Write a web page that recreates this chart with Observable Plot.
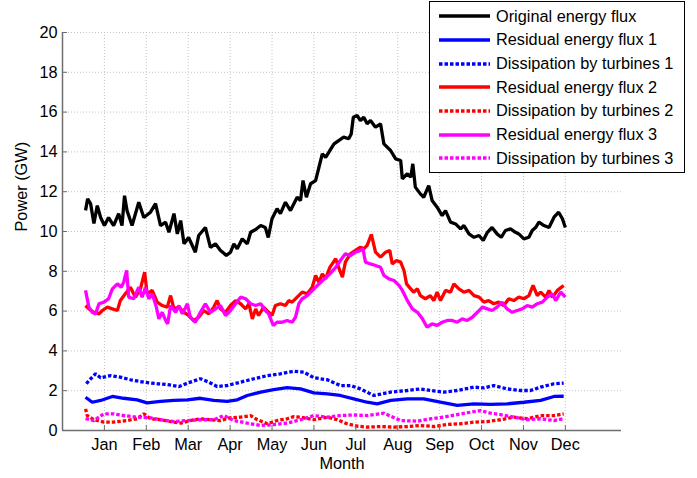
<!DOCTYPE html>
<html><head><meta charset="utf-8">
<script src="https://cdn.jsdelivr.net/npm/d3@7"></script>
<script src="https://cdn.jsdelivr.net/npm/@observablehq/plot@0.6"></script>
<style>
body{margin:0;background:#fff;font-family:"Liberation Sans",Arial,sans-serif;}
#wrap{position:relative;width:697px;height:478px;}
#legend{position:absolute;left:429px;top:1px;width:254px;height:170px;border:1px solid #000;background:#fff;box-sizing:content-box;padding-top:0;}
.row{position:absolute;left:0;height:24px;display:flex;align-items:center;font-size:16.3px;color:#000;white-space:nowrap;}
.row svg{margin-left:9px;margin-right:6px;}
</style>
</head><body>
<div id="wrap"><div id="chart"></div><div id="legend"></div></div>
<script>
const monthLabels = ["Jan","Feb","Mar","Apr","May","Jun","Jul","Aug","Sep","Oct","Nov","Dec"];
const monthPos = [1,2,3,4,5,6,7,8,9,10,11,12];
const yTicks = [0,2,4,6,8,10,12,14,16,18,20];
const seriesNames = ["Original energy flux","Residual energy flux 1","Dissipation by turbines 1","Residual energy flux 2","Dissipation by turbines 2","Residual energy flux 3","Dissipation by turbines 3"];
const seriesColors = ["#000000","#0000ff","#0000ff","#ff0000","#ff0000","#ff00ff","#ff00ff"];
const seriesDotted = [false,false,true,false,true,false,true];

// [month position, GW]
const origFlux = [[0.55,11.06],[0.60,11.64],[0.67,11.4],[0.75,10.4],[0.83,11.3],[0.91,10.7],[1.00,10.3],[1.10,10.7],[1.22,10.3],[1.34,10.9],[1.42,10.3],[1.48,11.8],[1.54,11.05],[1.66,10.3],[1.82,11.47],[1.94,10.7],[2.10,10.97],[2.22,11.4],[2.34,10.3],[2.46,10.47],[2.54,9.96],[2.66,10.9],[2.74,9.88],[2.82,10.55],[2.90,9.38],[3.01,9.7],[3.17,8.96],[3.25,9.8],[3.41,10.2],[3.53,9.2],[3.65,9.38],[3.77,9.05],[3.91,8.8],[4.01,8.96],[4.09,9.38],[4.17,9.13],[4.29,9.63],[4.41,9.38],[4.49,9.96],[4.61,10.1],[4.73,10.3],[4.84,10.2],[4.91,9.7],[5.00,10.64],[5.12,11.14],[5.20,10.9],[5.32,11.47],[5.44,11.05],[5.60,11.72],[5.68,11.56],[5.74,12.56],[5.82,11.72],[5.92,12.4],[6.04,12.56],[6.12,13.23],[6.20,13.9],[6.28,13.73],[6.38,14.07],[6.48,14.4],[6.59,14.57],[6.71,14.74],[6.83,14.66],[6.89,14.9],[6.94,15.74],[7.03,15.83],[7.11,15.58],[7.19,15.74],[7.27,15.41],[7.35,15.58],[7.47,15.24],[7.59,15.41],[7.67,14.4],[7.83,14.07],[7.95,13.65],[8.07,13.57],[8.11,12.65],[8.23,12.9],[8.31,12.73],[8.36,13.4],[8.42,12.23],[8.54,11.89],[8.62,11.72],[8.74,12.31],[8.82,11.56],[8.94,11.22],[9.06,10.8],[9.14,11.05],[9.26,10.47],[9.38,10.38],[9.50,10.13],[9.58,10.3],[9.70,9.88],[9.82,9.71],[9.94,9.8],[10.04,9.55],[10.14,9.96],[10.25,10.2],[10.37,9.88],[10.47,9.71],[10.57,10.05],[10.69,10.13],[10.81,9.96],[10.89,9.88],[11.01,9.63],[11.13,9.71],[11.21,10.05],[11.29,10.2],[11.37,10.47],[11.49,10.3],[11.61,10.2],[11.73,10.72],[11.84,10.97],[11.93,10.64],[12.0,10.2]];
const resid1 = [[0.55,1.67],[0.71,1.42],[0.91,1.51],[1.19,1.71],[1.46,1.62],[1.78,1.54],[2.02,1.39],[2.34,1.46],[2.66,1.51],[2.98,1.54],[3.29,1.62],[3.61,1.51],[3.93,1.46],[4.17,1.54],[4.41,1.76],[4.73,1.93],[5.04,2.05],[5.36,2.15],[5.68,2.09],[6.00,1.89],[6.32,1.84],[6.63,1.76],[6.95,1.59],[7.27,1.42],[7.51,1.34],[7.83,1.51],[8.23,1.59],[8.62,1.59],[9.02,1.42],[9.42,1.26],[9.82,1.34],[10.21,1.31],[10.61,1.34],[11.01,1.42],[11.41,1.51],[11.73,1.71],[11.96,1.72]];
const dissip1 = [[0.57,2.35],[0.63,2.51],[0.79,2.85],[0.91,2.65],[1.15,2.76],[1.38,2.68],[1.62,2.55],[1.94,2.43],[2.26,2.35],[2.50,2.31],[2.78,2.21],[2.98,2.38],[3.29,2.6],[3.49,2.43],[3.69,2.21],[3.93,2.26],[4.25,2.43],[4.57,2.6],[4.89,2.76],[5.20,2.85],[5.52,2.98],[5.76,2.93],[6.00,2.65],[6.32,2.55],[6.63,2.26],[6.87,2.26],[7.11,2.09],[7.43,1.76],[7.83,1.93],[8.23,2.01],[8.54,2.09],[8.78,2.01],[9.10,1.93],[9.42,2.01],[9.82,2.18],[10.06,2.14],[10.29,2.26],[10.61,2.09],[10.93,2.01],[11.17,2.01],[11.41,2.18],[11.73,2.35],[11.96,2.38]];
const resid2 = [[0.55,6.28],[0.63,6.11],[0.75,5.94],[0.87,5.86],[0.95,6.03],[1.07,6.2],[1.19,6.11],[1.31,6.03],[1.38,6.53],[1.50,6.87],[1.62,7.2],[1.74,6.7],[1.86,7.12],[1.96,7.96],[2.02,6.87],[2.14,7.04],[2.26,6.45],[2.38,6.28],[2.50,6.2],[2.58,6.78],[2.66,6.11],[2.78,6.2],[2.90,5.94],[3.01,5.78],[3.13,5.53],[3.25,5.69],[3.37,6.03],[3.49,5.86],[3.61,6.2],[3.69,6.53],[3.77,6.11],[3.89,5.94],[4.01,6.28],[4.13,6.53],[4.25,6.37],[4.37,6.11],[4.45,6.37],[4.53,5.61],[4.61,6.11],[4.68,5.78],[4.80,6.2],[4.92,5.94],[5.00,5.78],[5.08,6.28],[5.20,6.37],[5.32,6.28],[5.40,6.53],[5.48,6.45],[5.60,6.7],[5.72,6.95],[5.84,6.87],[5.96,7.2],[6.04,7.79],[6.12,7.45],[6.20,7.87],[6.28,7.62],[6.38,8.2],[6.52,8.63],[6.59,8.2],[6.68,7.7],[6.75,8.46],[6.87,8.88],[6.99,9.05],[7.11,9.21],[7.19,9.13],[7.27,9.3],[7.37,9.85],[7.47,8.96],[7.59,8.71],[7.71,8.96],[7.81,9.05],[7.87,8.37],[7.97,8.54],[8.07,8.46],[8.15,8.04],[8.21,7.37],[8.31,7.12],[8.38,6.95],[8.47,7.12],[8.54,6.78],[8.66,6.62],[8.78,6.78],[8.86,6.53],[8.94,6.95],[9.02,6.53],[9.14,7.04],[9.26,6.95],[9.34,7.37],[9.46,7.12],[9.58,6.95],[9.70,7.04],[9.82,6.78],[9.94,6.7],[10.06,6.45],[10.17,6.53],[10.29,6.37],[10.41,6.45],[10.53,6.28],[10.65,6.62],[10.77,6.53],[10.89,6.7],[11.01,6.62],[11.13,6.78],[11.23,7.29],[11.33,6.78],[11.41,6.95],[11.53,6.7],[11.61,7.04],[11.69,6.7],[11.81,7.04],[11.96,7.29]];
const dissip2 = [[0.55,1.09],[0.59,0.75],[0.75,0.54],[0.99,0.42],[1.22,0.42],[1.54,0.5],[1.78,0.59],[1.94,0.84],[2.10,0.59],[2.34,0.54],[2.58,0.45],[2.82,0.37],[3.05,0.5],[3.29,0.59],[3.53,0.54],[3.77,0.5],[4.01,0.64],[4.25,0.67],[4.49,0.75],[4.65,0.54],[4.89,0.34],[5.12,0.5],[5.36,0.59],[5.52,0.7],[5.68,0.67],[6.00,0.54],[6.32,0.67],[6.56,0.54],[6.79,0.34],[7.03,0.22],[7.27,0.17],[7.59,0.2],[7.91,0.17],[8.23,0.2],[8.54,0.25],[8.86,0.2],[9.18,0.3],[9.50,0.34],[9.82,0.42],[10.14,0.45],[10.45,0.54],[10.77,0.67],[11.09,0.59],[11.41,0.75],[11.73,0.75],[11.96,0.84]];
const resid3 = [[0.55,7.04],[0.63,6.2],[0.71,5.94],[0.79,5.86],[0.87,6.37],[0.99,6.45],[1.10,6.62],[1.19,7.12],[1.31,7.37],[1.40,7.2],[1.46,7.45],[1.53,8.04],[1.58,6.7],[1.70,6.62],[1.82,7.2],[1.90,6.7],[1.98,7.2],[2.06,6.62],[2.14,6.87],[2.24,6.2],[2.30,5.61],[2.38,5.94],[2.46,5.53],[2.51,5.36],[2.58,6.28],[2.70,5.94],[2.78,6.28],[2.86,5.86],[2.98,6.37],[3.05,5.69],[3.17,5.44],[3.29,5.94],[3.41,6.37],[3.53,5.94],[3.65,6.11],[3.77,6.28],[3.89,5.78],[4.01,6.03],[4.13,6.37],[4.25,6.7],[4.37,6.62],[4.49,6.37],[4.61,6.28],[4.73,6.37],[4.84,6.03],[4.92,5.86],[5.03,5.28],[5.12,5.44],[5.24,5.44],[5.36,5.53],[5.48,5.44],[5.56,5.69],[5.64,6.37],[5.72,6.62],[5.84,6.78],[6.00,7.12],[6.16,7.45],[6.38,7.87],[6.52,8.2],[6.63,8.54],[6.75,8.88],[6.87,8.79],[6.99,8.96],[7.11,9.05],[7.17,9.13],[7.23,8.46],[7.35,8.37],[7.47,8.29],[7.59,8.2],[7.67,7.79],[7.79,7.62],[7.91,7.54],[8.03,7.29],[8.11,7.04],[8.23,6.53],[8.35,6.11],[8.47,5.94],[8.59,5.61],[8.70,5.19],[8.82,5.36],[8.94,5.28],[9.06,5.44],[9.18,5.53],[9.30,5.53],[9.42,5.44],[9.54,5.61],[9.66,5.53],[9.78,5.69],[9.90,5.94],[10.02,6.2],[10.14,6.11],[10.25,6.03],[10.37,6.2],[10.49,6.45],[10.61,6.11],[10.73,5.94],[10.85,6.03],[10.97,6.11],[11.09,6.28],[11.21,6.2],[11.33,6.37],[11.45,6.45],[11.57,6.7],[11.69,6.87],[11.77,6.53],[11.89,6.95],[12.0,6.7]];
const dissip3 = [[0.55,0.59],[0.75,0.5],[0.99,0.84],[1.22,0.84],[1.46,0.75],[1.78,0.67],[2.10,0.64],[2.34,0.54],[2.66,0.45],[2.98,0.5],[3.29,0.54],[3.61,0.54],[3.85,0.75],[4.09,0.5],[4.41,0.37],[4.73,0.25],[5.04,0.3],[5.36,0.37],[5.68,0.54],[6.00,0.75],[6.32,0.67],[6.63,0.75],[6.95,0.78],[7.27,0.75],[7.67,0.87],[8.07,0.5],[8.47,0.47],[8.78,0.59],[9.10,0.67],[9.42,0.8],[9.74,0.92],[9.98,1.0],[10.21,0.87],[10.45,0.8],[10.77,0.67],[11.09,0.54],[11.41,0.59],[11.73,0.5],[11.96,0.59]];

const allSeries = [origFlux, resid1, dissip1, resid2, dissip2, resid3, dissip3];
const W = 697, H = 478, mL = 62, mR = 76, mT = 32, mB = 48;
const frameW = W - mL - mR, frameH = H - mT - mB;
const dash = "3.5,2";
const axisGray = "#6e6e6e";
const gridGray = "#c4c4c4";

const lineMarks = allSeries.map((s, i) => Plot.line(s, {
  x: d => d[0], y: d => d[1], stroke: seriesColors[i], strokeWidth: 3.3,
  strokeDasharray: seriesDotted[i] ? dash : null, strokeLinejoin: "miter", strokeLinecap: "butt"
}));

const chart = Plot.plot({
  width: W, height: H,
  marginLeft: mL, marginRight: mR, marginTop: mT, marginBottom: mB,
  style: {fontFamily: "'Liberation Sans', Arial, sans-serif", fontSize: "16px", background: "white", color: "#000", overflow: "visible"},
  x: {domain: [0, 13.34]},
  y: {domain: [0, 20]},
  marks: [
    Plot.ruleY(yTicks, {y: d => d, stroke: gridGray, strokeDasharray: "1,2", strokeWidth: 1}),
    Plot.ruleX(monthPos, {x: d => d, stroke: gridGray, strokeDasharray: "1,2", strokeWidth: 1}),
    ...lineMarks,
    Plot.ruleX([0], {stroke: axisGray, strokeWidth: 1.5}),
    Plot.ruleY([0], {stroke: axisGray, strokeWidth: 1.5}),
    Plot.tickY(yTicks, {y: d => d, insetRight: frameW - 5, stroke: axisGray}),
    Plot.tickX(monthPos, {x: d => d, insetTop: frameH - 5, stroke: axisGray}),
    Plot.axisY(yTicks, {tickSize: 0, tickPadding: 5, label: null, fill: "#000", fontSize: 16.3}),
    Plot.axisX(monthPos, {tickSize: 0, tickPadding: 8, label: null, tickFormat: d => monthLabels[d - 1], fill: "#000", fontSize: 16.3}),
    Plot.text(["Power (GW)"], {frameAnchor: "left", rotate: -90, dx: -41, fontSize: 16.3, fill: "#000"}),
    Plot.text(["Month"], {frameAnchor: "bottom", dy: 38, fontSize: 16.3, fill: "#000"})
  ]
});
document.getElementById("chart").appendChild(chart);

const legend = document.getElementById("legend");
seriesNames.forEach((name, i) => {
  const row = document.createElement("div");
  row.className = "row";
  row.style.top = (2.2 + i * 23.67) + "px";
  row.innerHTML = `<svg width="51" height="6"><line x1="0" x2="51" y1="3" y2="3" stroke="${seriesColors[i]}" stroke-width="3.3" ${seriesDotted[i] ? `stroke-dasharray="${dash}"` : ""}/></svg><span>${name}</span>`;
  legend.appendChild(row);
});
</script>
</body></html>
